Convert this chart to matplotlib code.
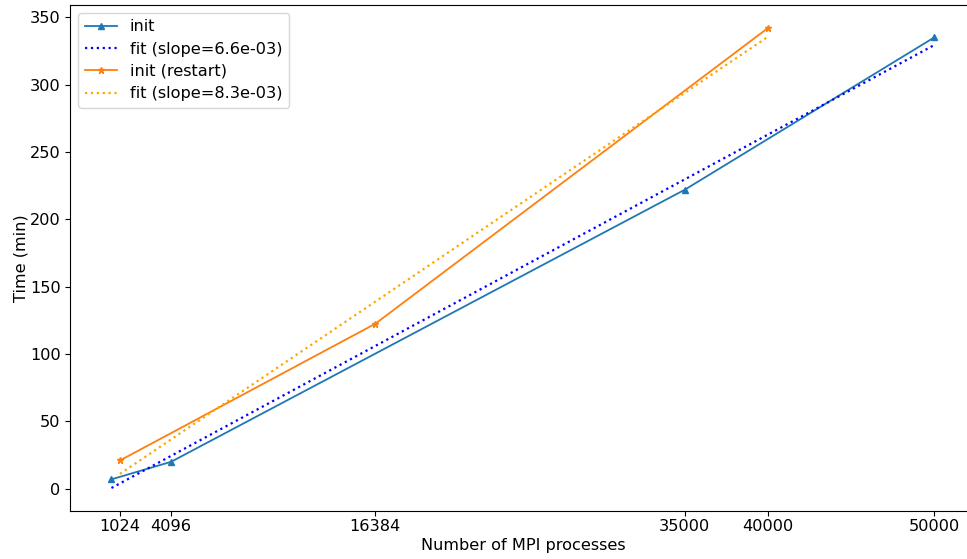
import numpy as np
import matplotlib
matplotlib.use("Agg")
import matplotlib.pyplot as plt

# Measured initialisation times (minutes) vs. number of MPI processes
procs_init = [512, 4096, 35000, 50000]
time_init = [7, 20, 222, 335]

procs_restart = [1024, 16384, 40000]
time_restart = [21, 122.5, 342]

xtick_values = [1024, 4096, 16384, 35000, 40000, 50000]

plt.rcParams["font.size"] = 11.6

fig = plt.figure(figsize=(9.67, 5.59), dpi=100)
ax = fig.add_axes([0.0727, 0.0859, 0.936, 0.9052])

# Linear fits
slope_i, icpt_i = np.polyfit(procs_init, time_init, 1)
slope_r, icpt_r = np.polyfit(procs_restart, time_restart, 1)
xi = np.array(procs_init, dtype=float)
xr = np.array(procs_restart, dtype=float)

ax.plot(procs_init, time_init, marker="^", color="C0", lw=1.3, ms=5, label="init")
ax.plot(xi, slope_i * xi + icpt_i, ":", color="blue", lw=1.6,
        label=f"fit (slope={slope_i:.1e})")
ax.plot(procs_restart, time_restart, marker="*", color="C1", lw=1.3, ms=5,
        label="init (restart)")
ax.plot(xr, slope_r * xr + icpt_r, ":", color="orange", lw=1.6,
        label=f"fit (slope={slope_r:.1e})")

ax.set_xticks(xtick_values)
ax.set_xticklabels([str(v) for v in xtick_values])
ax.tick_params(axis="x", pad=2.5)
ax.set_xlabel("Number of MPI processes", labelpad=3)
ax.set_ylabel("Time (min)", labelpad=1)
ax.legend(loc="upper left", labelspacing=0.45)

fig.savefig("out.png", dpi=100)
